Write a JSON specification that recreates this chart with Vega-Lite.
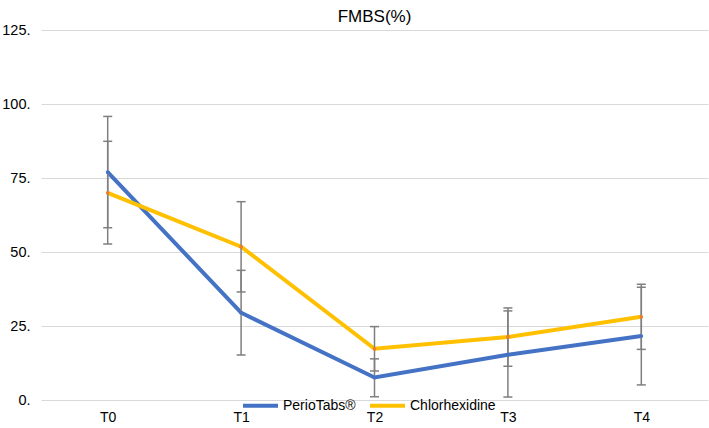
{
  "$schema": "https://vega.github.io/schema/vega-lite/v6.json",
  "autosize": "none",
  "width": 667,
  "height": 370,
  "padding": {"left": 41, "top": 30, "right": 1, "bottom": 28},
  "background": "white",
  "config": {
    "font": "Liberation Sans",
    "view": {"stroke": null}
  },
  "title": {"text": "FMBS(%)", "fontSize": 17, "fontWeight": "normal", "color": "#000000", "anchor": "middle", "offset": -4},
  "data": {
    "values": [
      {"series": "PerioTabs®", "time": "T0", "mean": 77.0, "lo": 58.2, "hi": 95.8},
      {"series": "PerioTabs®", "time": "T1", "mean": 29.5, "lo": 15.2, "hi": 43.8},
      {"series": "PerioTabs®", "time": "T2", "mean": 7.6, "lo": 1.1, "hi": 13.9},
      {"series": "PerioTabs®", "time": "T3", "mean": 15.3, "lo": 1.0, "hi": 30.1},
      {"series": "PerioTabs®", "time": "T4", "mean": 21.6, "lo": 5.1, "hi": 38.1},
      {"series": "Chlorhexidine", "time": "T0", "mean": 70.0, "lo": 52.7, "hi": 87.4},
      {"series": "Chlorhexidine", "time": "T1", "mean": 51.8, "lo": 36.5, "hi": 67.0},
      {"series": "Chlorhexidine", "time": "T2", "mean": 17.3, "lo": 9.8, "hi": 24.8},
      {"series": "Chlorhexidine", "time": "T3", "mean": 21.3, "lo": 11.4, "hi": 31.1},
      {"series": "Chlorhexidine", "time": "T4", "mean": 28.1, "lo": 17.1, "hi": 39.1}
    ]
  },
  "encoding": {
    "x": {
      "field": "time", "type": "ordinal",
      "scale": {"type": "point", "padding": 0.5},
      "axis": {"title": null, "labelAngle": 0, "ticks": false, "domain": false, "labelPadding": 10, "labelFontSize": 14, "labelColor": "#000000", "grid": false}
    }
  },
  "layer": [
    {
      "mark": {"type": "line", "strokeWidth": 4},
      "encoding": {
        "y": {
          "field": "mean", "type": "quantitative",
          "scale": {"domain": [0, 125], "nice": false},
          "axis": {"title": null, "values": [0, 25, 50, 75, 100, 125], "labelExpr": "format(datum.value, 'd') + '.'", "ticks": false, "domain": false, "gridColor": "#d9d9d9", "gridWidth": 1.2, "labelPadding": 11, "labelFontSize": 14.5, "labelColor": "#000000"}
        },
        "color": {
          "field": "series", "type": "nominal",
          "scale": {"domain": ["PerioTabs®", "Chlorhexidine"], "range": ["#4472C4", "#FFC000"]},
          "legend": {
            "title": null, "orient": "none", "direction": "horizontal",
            "legendX": 200, "legendY": 356,
            "symbolType": "stroke", "symbolStrokeWidth": 4, "symbolSize": 1225,
            "labelFontSize": 14, "labelColor": "#000000", "labelOffset": 3, "columnPadding": 6
          }
        }
      }
    },
    {
      "mark": {"type": "rule", "color": "#7f7f7f", "strokeWidth": 1.5},
      "encoding": {
        "y": {"field": "lo", "type": "quantitative"},
        "y2": {"field": "hi"}
      }
    },
    {
      "mark": {"type": "tick", "orient": "horizontal", "color": "#7f7f7f", "size": 9, "thickness": 1.5, "opacity": 1},
      "encoding": {"y": {"field": "lo", "type": "quantitative"}}
    },
    {
      "mark": {"type": "tick", "orient": "horizontal", "color": "#7f7f7f", "size": 9, "thickness": 1.5, "opacity": 1},
      "encoding": {"y": {"field": "hi", "type": "quantitative"}}
    },
    {
      "mark": {"type": "point", "filled": true, "size": 14, "opacity": 1},
      "encoding": {
        "y": {"field": "mean", "type": "quantitative"},
        "color": {"condition": {"test": "datum.series === 'Chlorhexidine'", "value": "#ED7D31"}, "value": "#4472C4"}
      }
    }
  ]
}
